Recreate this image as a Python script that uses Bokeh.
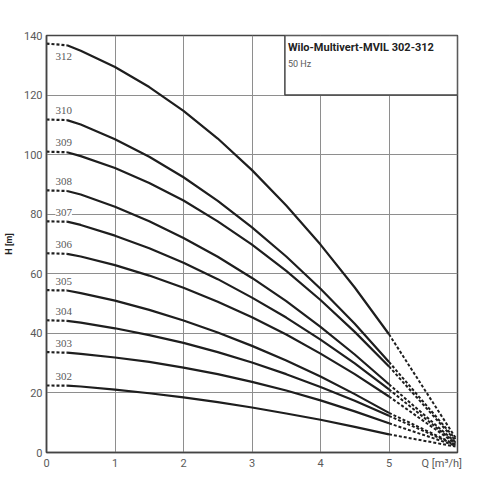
from bokeh.plotting import figure
from bokeh.models import ColumnDataSource, LabelSet, Label, FixedTicker
from bokeh.embed import file_html
from bokeh.resources import INLINE

# ---- data ----
Q = [0.0, 0.3, 0.5, 1.0, 1.5, 2.0, 2.5, 3.0, 3.5, 4.0, 4.5, 5.0]
PUMPS = ["312", "310", "309", "308", "307", "306", "305", "304", "303", "302"]
H_312 = [137.3, 136.7, 134.9, 129.4, 122.7, 114.7, 105.4, 94.8, 82.9, 69.8, 55.4, 39.7]
H_310 = [111.8, 111.6, 110.1, 105.2, 99.3, 92.4, 84.5, 75.6, 65.8, 55.0, 43.2, 30.4]
H_309 = [101.0, 100.8, 99.5, 95.5, 90.5, 84.6, 77.6, 69.8, 61.0, 51.2, 40.5, 28.9]
H_308 = [88.0, 87.8, 86.6, 82.5, 77.6, 72.0, 65.7, 58.6, 50.8, 42.2, 32.9, 22.9]
H_307 = [77.6, 77.5, 76.4, 72.8, 68.6, 63.7, 58.2, 52.0, 45.3, 37.9, 29.9, 21.2]
H_306 = [66.9, 66.7, 65.8, 62.9, 59.4, 55.3, 50.6, 45.4, 39.6, 33.2, 26.3, 18.8]
H_305 = [54.5, 54.4, 53.5, 51.0, 47.9, 44.3, 40.3, 35.8, 30.9, 25.5, 19.6, 13.3]
H_304 = [44.4, 44.2, 43.6, 41.7, 39.4, 36.8, 33.7, 30.2, 26.3, 22.0, 17.4, 12.3]
H_303 = [33.7, 33.5, 33.1, 31.9, 30.4, 28.5, 26.3, 23.7, 20.8, 17.5, 13.8, 9.8]
H_302 = [22.5, 22.45, 22.15, 21.1, 19.9, 18.5, 16.9, 15.1, 13.1, 11.0, 8.6, 6.1]
Q_END = [5.97, 5.97, 5.97, 5.97, 5.97, 5.97, 5.97, 5.97, 5.97, 5.97]
H_END = [5.0, 4.5, 4.0, 3.5, 3.2, 3.0, 2.7, 2.5, 2.3, 2.0]
X_TICKS = [0, 1, 2, 3, 4, 5]
Y_TICKS = [0, 20, 40, 60, 80, 100, 120, 140]
X_TITLE = "Q [m³/h]"
X_TITLE_POS = 5.77
Y_TITLE = "H [m]"
TITLE = "Wilo-Multivert-MVIL 302-312"
SUBTITLE = "50 Hz"
BOX = [3.48, 6.0, 120.0, 140.0]  # left, right, bottom, top

CURVES = [H_312, H_310, H_309, H_308, H_307, H_306, H_305, H_304, H_303, H_302]

FONT = "Roboto"
LINE = "#1e1e1e"
GRID = "#8e8e8e"
TXT = "#5a5a5a"

p = figure(width=468, height=472, x_range=(0, 6), y_range=(0, 140),
           output_backend="svg", toolbar_location=None,
           min_border_left=42, min_border_top=35, min_border_right=11,
           min_border_bottom=10)
p.background_fill_color = "white"
p.border_fill_color = "white"
p.outline_line_color = "#444444"
p.outline_line_width = 1.5

# grid
p.xgrid.ticker = FixedTicker(ticks=[1, 2, 3, 4, 5])
p.ygrid.ticker = FixedTicker(ticks=[20, 40, 60, 80, 100, 120])
for g in (p.xgrid, p.ygrid):
    g.grid_line_color = GRID
    g.grid_line_width = 1

# axes
p.xaxis.ticker = FixedTicker(ticks=X_TICKS + [X_TITLE_POS])
p.xaxis.major_label_overrides = {X_TITLE_POS: X_TITLE}
p.yaxis.ticker = FixedTicker(ticks=Y_TICKS)
for ax in (p.xaxis, p.yaxis):
    ax.axis_line_color = "#444444"
    ax.axis_line_width = 1.5
    ax.major_tick_out = 0
    ax.major_tick_in = 0
    ax.minor_tick_out = 0
    ax.minor_tick_in = 0
    ax.major_label_text_font = FONT
    ax.major_label_text_font_size = "11px"
    ax.major_label_text_color = TXT
    ax.major_label_standoff = 4
p.yaxis.axis_label = Y_TITLE
p.yaxis.axis_label_text_font = FONT
p.yaxis.axis_label_text_font_style = "bold"
p.yaxis.axis_label_text_font_size = "9px"
p.yaxis.axis_label_text_color = "#222222"
p.yaxis.axis_label_standoff = 7

# curves
for H, qe, he in zip(CURVES, Q_END, H_END):
    p.line(Q[1:], H[1:], line_color=LINE, line_width=2.2, line_join="round")
    p.line(Q[:2], H[:2], line_color=LINE, line_width=2.2, line_dash="3 2")
    p.line([Q[-1], qe], [H[-1], he], line_color=LINE, line_width=2.0, line_dash="3 2")

# labels for each pump
lab_src = ColumnDataSource(dict(
    x=[0.13] * len(PUMPS),
    y=[H[0] for H in CURVES],
    t=PUMPS,
    dy=[-13 if t == "312" else 9 for t in PUMPS],
))
p.add_layout(LabelSet(x="x", y="y", text="t", source=lab_src, y_offset="dy",
                      text_font=FONT, text_font_size="11px", text_color=TXT,
                      text_baseline="middle", text_align="left",
                      background_fill_color="white"))

# title box
p.quad(left=[BOX[0]], right=[BOX[1]], bottom=[BOX[2]], top=[BOX[3]],
       fill_color="white", line_color="#444444", line_width=1.5)
p.add_layout(Label(x=BOX[0], y=BOX[3], x_offset=3, y_offset=-12, text=TITLE,
                   text_font=FONT, text_font_style="bold", text_font_size="11px",
                   text_color="#222222", text_baseline="middle"))
p.add_layout(Label(x=BOX[0], y=BOX[3], x_offset=3, y_offset=-28, text=SUBTITLE,
                   text_font=FONT, text_font_size="9px",
                   text_color=TXT, text_baseline="middle"))

open("out.html", "w").write(file_html(p, INLINE))
